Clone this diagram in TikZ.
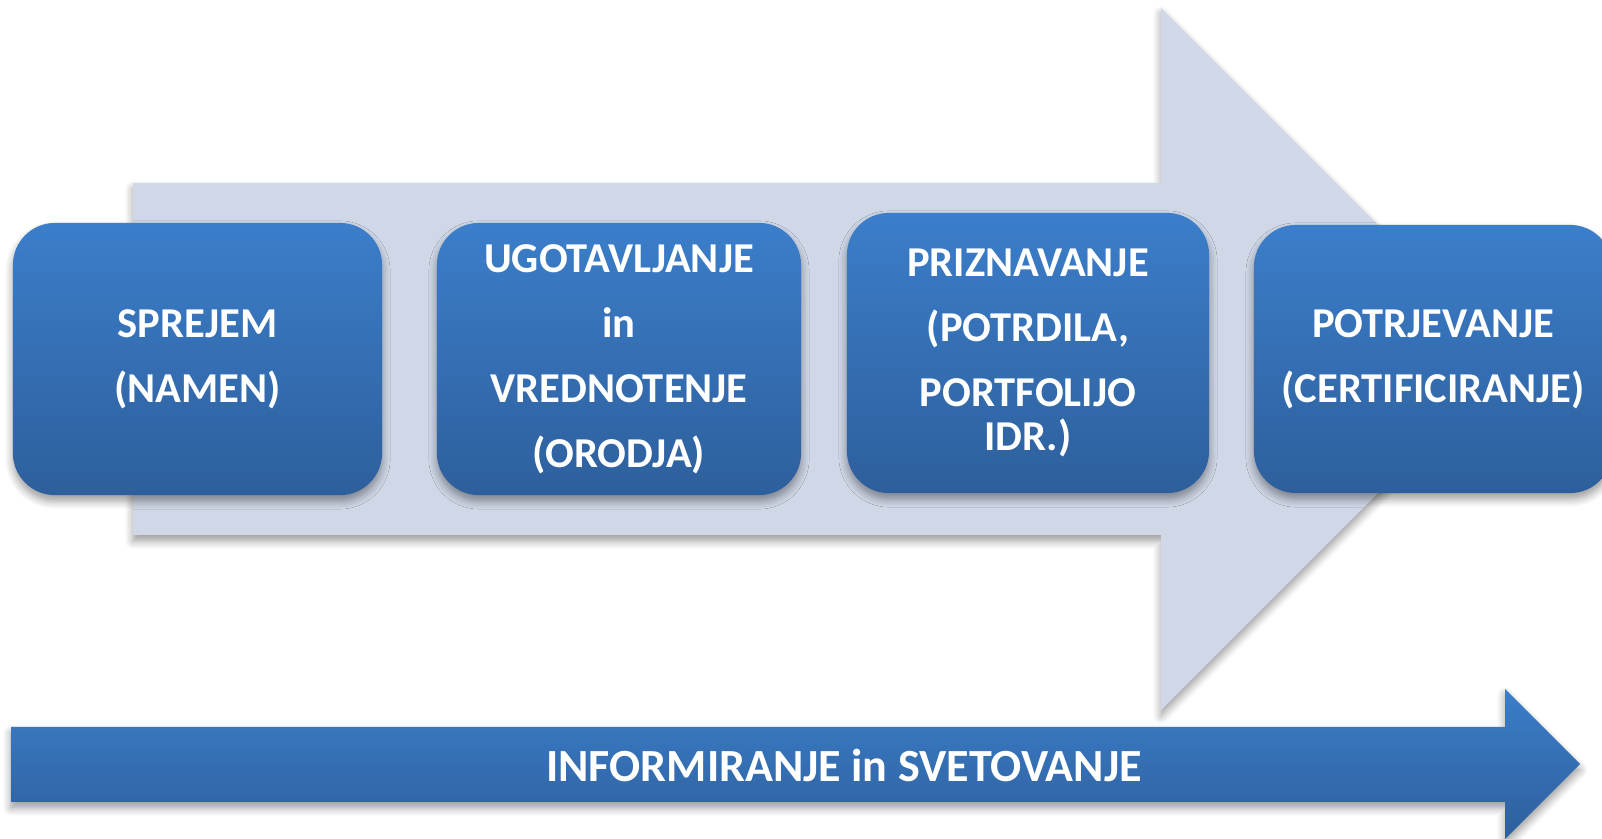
\documentclass[tikz,border=0pt]{standalone}
\usepackage{fontspec}
\setmainfont{Carlito}
\usetikzlibrary{positioning,shadows.blur}
\definecolor{stagetop}{RGB}{59,126,202}
\definecolor{stagebot}{RGB}{46,95,156}
\definecolor{flowgrey}{RGB}{208,216,232}
\tikzset{
  soft/.style  ={blur shadow={shadow xshift=0pt, shadow yshift=-0.06cm, shadow blur radius=0.08cm,
                 shadow opacity=40, shadow blur steps=6}},
  stage/.style ={soft, rounded corners=0.42cm, top color=stagetop, bottom color=stagebot,
                 text=white, align=center, inner sep=0pt,
                 font=\bfseries\fontsize{12.1}{18.5}\selectfont},
  banner/.style={text=white, font=\bfseries\fontsize{13.1}{15}\selectfont},
}

\begin{document}
\begin{tikzpicture}[x=0.01cm, y=0.01cm]
  \useasboundingbox (0,0) rectangle (1602,839);

  % big grey arrow behind the stages
  \fill[flowgrey, soft] (133,656) -- (1161,656) -- (1161,831) -- (1512,480)
    -- (1161,129) -- (1161,304) -- (133,304) -- cycle;

  % the four stages
  \node[stage, minimum width=3.69cm, minimum height=2.72cm] (sprejem) at (197.5,480)
    {SPREJEM\\(NAMEN)};
  \node[stage, minimum width=3.64cm, minimum height=2.72cm] (ugotavljanje) at (619,480)
    {UGOTAVLJANJE\\in\\VREDNOTENJE\\(ORODJA)};
  \node[stage, minimum width=3.62cm, minimum height=2.80cm] (priznavanje) at (1028,486)
    {PRIZNAVANJE\\(POTRDILA,\\PORTFOLIJO\\[-6pt]IDR.)};
  \node[stage, minimum width=3.58cm, minimum height=2.68cm] (potrjevanje) at (1433,480)
    {POTRJEVANJE\\(CERTIFICIRANJE)};

  % bottom arrow
  \shade[soft, top color=stagetop, bottom color=stagebot] (11,112) -- (1505,112) -- (1505,150)
    -- (1580,75) -- (1505,0) -- (1505,37) -- (11,37) -- cycle;
  \node[banner] (info) at (844,74) {INFORMIRANJE in SVETOVANJE};
\end{tikzpicture}
\end{document}
